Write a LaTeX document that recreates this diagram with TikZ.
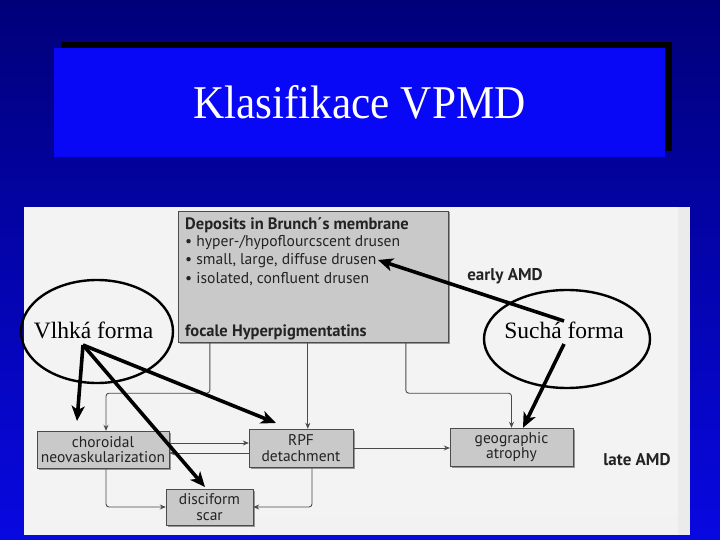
\documentclass[tikz,border=0pt]{standalone}
\usepackage{fontspec}
\setmainfont{Liberation Serif}
\newfontfamily\figfont{PT Sans}
\usetikzlibrary{
	calc,
	arrows.meta,
	shapes.geometric,
	shadows,
	positioning
	}
\definecolor{slidetop}{RGB}{0,0,122}
\definecolor{slidebottom}{RGB}{8,8,225}
\definecolor{titleblue}{RGB}{8,8,246}
\definecolor{scanback}{RGB}{243,243,243}
\definecolor{boxgray}{RGB}{201,201,201}
\definecolor{linegray}{RGB}{75,75,75}
\definecolor{inkgray}{RGB}{35,35,35}
\tikzstyle{box-std}=[draw=linegray, fill=boxgray, inner sep=0pt, text=inkgray,
	drop shadow={shadow xshift=1.5pt, shadow yshift=-1.5pt, fill=gray, opacity=0.8},
	font={\figfont\fontsize{15.5}{15.5}\selectfont}, align=center]
\tikzstyle{line-std}=[draw=linegray, line width=0.9pt, rounded corners=3pt,
	-{Stealth[length=6pt, width=5pt]}]
\tikzstyle{ink-arrow}=[draw=black, line width=3.6pt,
	-{Stealth[length=15pt, width=13pt, inset=4pt]}]
\tikzstyle{forma-ellipse}=[draw=black, line width=2.4pt, ellipse, inner sep=0pt]
\tikzstyle{forma-text}=[font={\fontsize{23.5}{26}\selectfont}, inner sep=0pt]
\tikzstyle{dep-text}=[anchor=west, inner sep=0pt, text=inkgray,
	font={\figfont\fontsize{15.6}{18}\selectfont}]
\tikzstyle{dep-head}=[dep-text, font={\figfont\bfseries\fontsize{16.5}{18}\selectfont}]
\tikzstyle{stage-text}=[inner sep=0pt, text=inkgray,
	font={\figfont\bfseries\fontsize{17}{19}\selectfont}]

\begin{document}
\begin{tikzpicture}[x=1pt, y=-1pt]
            \useasboundingbox (0,0) rectangle (720,540);
            \shade[top color=slidetop, bottom color=slidebottom] (0,0) rectangle (720,540);
            %
            \node[fill=titleblue, minimum width=611pt, minimum height=109pt,
               drop shadow={shadow xshift=7pt, shadow yshift=6pt, fill=black, opacity=1}]
               (titlebox) at (359.5,102.5) {};
            \node[text=white, font={\fontsize{47}{50}\selectfont}] (title) at (359.5,102.5)
               {\scalebox{0.92}[1]{Klasifikace VPMD}};
            %
            \fill[scanback] (24,207) rectangle (690,535);
            \fill[black!8] (678,207) rectangle (690,535);
            \fill[black!5] (250,515) rectangle (678,535);
            %
            \node[box-std, minimum width=270pt, minimum height=131pt] (deposits) at (313,276.5) {};
            \node[dep-head] (dep-1) at (185,225) {Deposits in Brunch´s membrane};
            \node[dep-text] (dep-2) at (185,243) {\textbullet\ hyper-/hypoflourcscent drusen};
            \node[dep-text] (dep-3) at (185,261) {\textbullet\ small, large, diffuse drusen};
            \node[dep-text] (dep-4) at (185,279) {\textbullet\ isolated, confluent drusen};
            \node[dep-head] (dep-5) at (185,332) {focale Hyperpigmentatins};
            %
            \node[box-std, minimum width=132pt, minimum height=37pt] (choroidal) at (103,449.5) {choroidal\\neovaskularization};
            \node[box-std, minimum width=104pt, minimum height=38pt] (rpf) at (301,448) {RPF\\detachment};
            \node[box-std, minimum width=87pt, minimum height=36pt] (disciform) at (209.5,507) {disciform\\scar};
            \node[box-std, minimum width=123pt, minimum height=38pt] (geographic) at (511.5,447) {geographic\\atrophy};
            %
            \node[stage-text] (early) at (505,276) {early AMD};
            \node[stage-text] (late) at (637,460) {late AMD};
            %
            \draw[line-std] ([xshift=32pt]deposits.south west) -- ++(0,51) -| ([xshift=3pt]choroidal.north);
            \draw[line-std] ([xshift=130pt]deposits.south west) -- ([xshift=130pt]deposits.south west |- rpf.north);
            \draw[line-std] ([xshift=228pt]deposits.south west) -- ++(0,51) -| (geographic.north);
            \draw[line-std] ([yshift=6.5pt]choroidal.east) -- ([yshift=6.5pt]choroidal.east -| rpf.west);
            \draw[line-std] ([yshift=-5pt]rpf.west) -- ([yshift=-5pt]rpf.west -| choroidal.east);
            \draw[line-std] ([xshift=3pt]choroidal.south) |- (disciform.west);
            \draw[line-std] ([xshift=11pt]rpf.south) |- (disciform.east);
            \draw[line-std] (rpf.east) -- (rpf.east -| geographic.west);
            %
            \node[forma-ellipse, minimum width=152pt, minimum height=103pt] (vlhka) at (97,331.5) {};
            \node[forma-text] (vlhka-text) at (93.5,330) {Vlhká forma};
            \node[forma-ellipse, minimum width=166pt, minimum height=98pt] (sucha) at (567,339) {};
            \node[forma-text] (sucha-text) at (564,330) {Suchá forma};
            %
            \coordinate (vlhka-from) at (83,345);
            \coordinate (sucha-from-1) at (564,321);
            \coordinate (sucha-from-2) at (564,344);
            \coordinate (choroidal-to) at (77,421);
            \coordinate (rpf-to) at (276,423);
            \coordinate (disciform-to) at (205,487);
            \coordinate (deposits-to) at (378,260);
            \draw[ink-arrow] (vlhka-from) -- (choroidal-to);
            \draw[ink-arrow] (vlhka-from) -- (rpf-to);
            \draw[ink-arrow] (vlhka-from) -- (disciform-to);
            \draw[ink-arrow] (sucha-from-1) -- (deposits-to);
            \draw[ink-arrow] (sucha-from-2) -- (geographic.north -| 523,0);
        \end{tikzpicture}
\end{document}
